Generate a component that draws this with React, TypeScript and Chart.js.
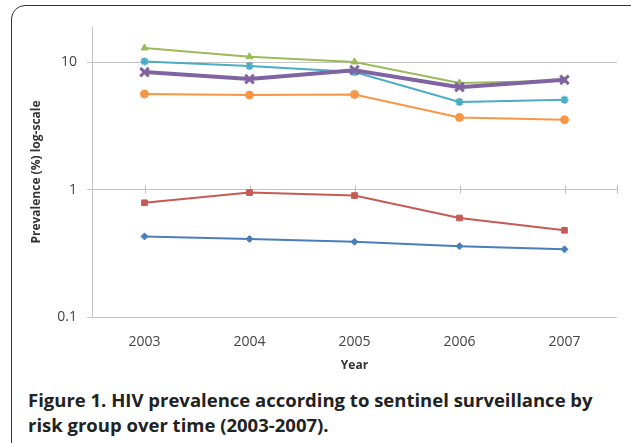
import React, { useEffect, useRef } from "react";
import { Chart, registerables } from "chart.js";

Chart.register(...registerables);

const years = ["2003", "2004", "2005", "2006", "2007"];
const prevBlue = [0.43, 0.41, 0.39, 0.36, 0.34];
const prevRed = [0.79, 0.95, 0.9, 0.6, 0.48];
const prevGreen = [13.0, 11.1, 10.1, 6.9, 7.2];
const prevCyan = [10.2, 9.4, 8.4, 4.9, 5.1];
const prevPurple = [8.4, 7.4, 8.7, 6.4, 7.3];
const prevOrange = [5.65, 5.55, 5.6, 3.7, 3.55];
const yTickValues = [0.1, 1, 10];
const yTickLabels = ["0.1", "1", "10"];

const FONT = "'Open Sans', 'DejaVu Sans', sans-serif";

const crossTicks = {
  id: "crossTicks",
  beforeDatasetsDraw(chart: any) {
    const { ctx, chartArea, scales } = chart;
    const y = scales.y.getPixelForValue(1);
    const xs: number[] = years.map((_, i) => scales.x.getPixelForValue(i));
    xs.push(chartArea.right);
    ctx.save();
    ctx.strokeStyle = "#bdbdbd";
    ctx.lineWidth = 1;
    xs.forEach((x) => {
      const px = Math.round(x) + 0.5;
      ctx.beginPath();
      ctx.moveTo(px, y - 4);
      ctx.lineTo(px, y + 4);
      ctx.stroke();
    });
    ctx.restore();
  },
};

export default function App() {
  const ref = useRef<HTMLCanvasElement | null>(null);

  useEffect(() => {
    if (!ref.current) return;
    const mk = (
      data: number[],
      color: string,
      style: string,
      radius: number,
      width: number,
      order: number
    ) => ({
      data,
      borderColor: color,
      backgroundColor: color,
      pointStyle: style,
      pointRadius: radius,
      pointBorderWidth: style === "crossRot" ? 3 : style === "star" ? 2 : 1,
      pointBackgroundColor: color,
      pointBorderColor: color,
      borderWidth: width,
      tension: 0,
      order,
    });
    const chart = new Chart(ref.current, {
      type: "line",
      data: {
        labels: years,
        datasets: [
          mk(prevBlue, "#4a7ebb", "rectRot", 3.5, 2, 5),
          mk(prevRed, "#c65a55", "rect", 4, 2, 4),
          mk(prevGreen, "#9bbb59", "triangle", 4, 2, 3),
          mk(prevPurple, "#8064a2", "crossRot", 6, 4, 0),
          mk(prevCyan, "#4bacc6", "star", 4, 2, 2),
          mk(prevOrange, "#f79646", "circle", 4, 2, 1),
        ] as any,
      },
      options: {
        animation: false,
        responsive: false,
        maintainAspectRatio: false,
        layout: { padding: { left: 20, top: 27, right: 14, bottom: 0 } },
        plugins: {
          legend: { display: false },
          tooltip: { enabled: false },
        },
        scales: {
          x: {
            type: "category",
            offset: true,
            grid: { display: false, drawTicks: false },
            border: { display: false },
            ticks: {
              font: { family: FONT, size: 14 },
              color: "#444",
              padding: 17,
              maxRotation: 0,
            },
            title: {
              display: true,
              text: "Year",
              font: { family: FONT, size: 12, weight: "bold" },
              color: "#333",
              padding: { top: 0, bottom: 7 },
            },
            afterFit: (s: any) => {
              s.height = 63;
            },
          },
          y: {
            type: "logarithmic",
            min: 0.1,
            max: 19,
            afterBuildTicks: (s: any) => {
              s.ticks = yTickValues.map((v) => ({ value: v }));
            },
            ticks: {
              font: { family: FONT, size: 14 },
              color: "#444",
              padding: 10,
              callback: (v: any) => {
                const i = yTickValues.findIndex((t) => Math.abs(t - Number(v)) < 1e-9);
                return i >= 0 ? yTickLabels[i] : "";
              },
            },
            grid: { color: "#c4c4c4", tickLength: 5, drawTicks: true },
            border: { display: true, color: "#c4c4c4" },
            title: {
              display: true,
              text: "Prevalence (%) log-scale",
              font: { family: FONT, size: 12, weight: "bold" },
              color: "#333",
              padding: { top: 9, bottom: 0 },
            },
            afterFit: (s: any) => {
              s.width = 72;
            },
          },
        },
      } as any,
      plugins: [crossTicks],
    });
    return () => chart.destroy();
  }, []);

  return (
    <div
      style={{
        position: "fixed",
        left: 0,
        top: 0,
        width: 631,
        height: 443,
        overflow: "hidden",
        background: "#fff",
      }}
    >
      <div
        style={{
          position: "absolute",
          left: 11,
          top: 5,
          width: 680,
          height: 500,
          border: "1px solid #333",
          borderRadius: 14,
          boxSizing: "border-box",
        }}
      />
      <canvas
        ref={ref}
        width={631}
        height={380}
        style={{ position: "absolute", left: 0, top: 0, width: 631, height: 380 }}
      />
      <div
        style={{
          position: "absolute",
          left: 28,
          top: 387,
          fontFamily: "'Open Sans', sans-serif",
          fontWeight: 700,
          fontSize: 18.5,
          lineHeight: "25px",
          color: "#222",
          whiteSpace: "nowrap",
        }}
      >
        <div>Figure 1. HIV prevalence according to sentinel surveillance by</div>
        <div>risk group over time (2003-2007).</div>
      </div>
    </div>
  );
}
